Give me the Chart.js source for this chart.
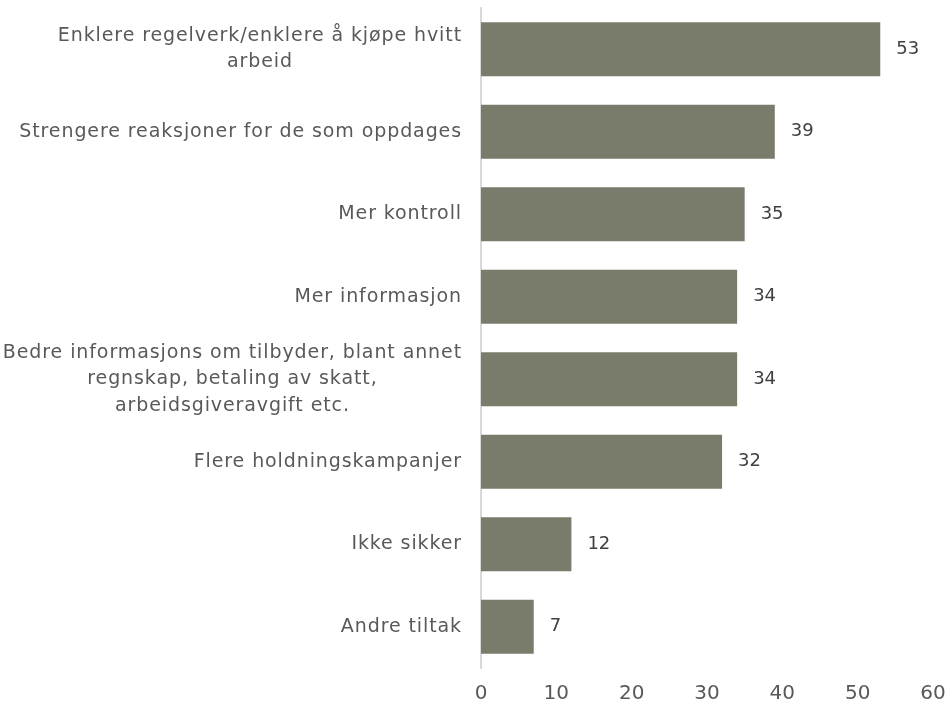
<!DOCTYPE html>
<html>
<head>
<meta charset="utf-8">
<script src="https://cdn.jsdelivr.net/npm/chart.js@4.4.1/dist/chart.umd.min.js"></script>
<style>
  html, body { margin: 0; padding: 0; background: #fff; }
  #wrap { width: 946px; height: 710px; }
</style>
</head>
<body>
<div id="wrap"><canvas id="c" width="946" height="710"></canvas></div>
<script>
/* Horizontal bar chart: tiltak mot svart arbeid (%) */

const CATEGORIES = [
  ['Enklere regelverk/enklere å kjøpe hvitt', 'arbeid'],
  ['Strengere reaksjoner for de som oppdages'],
  ['Mer kontroll'],
  ['Mer informasjon'],
  ['Bedre informasjons om tilbyder, blant annet', 'regnskap, betaling av skatt,', 'arbeidsgiveravgift etc.'],
  ['Flere holdningskampanjer'],
  ['Ikke sikker'],
  ['Andre tiltak'],
];
const VALUES = [53, 39, 35, 34, 34, 32, 12, 7];
const X_TICKS = [0, 10, 20, 30, 40, 50, 60];

const BAR     = '#7a7c6b';
const AXIS    = '#d9d9d9';
const TXT     = '#595959';
const VAL_TXT = '#404040';
const FONT    = '"DejaVu Sans", sans-serif';

/* category labels: right-aligned block, lines centred within it */
const catLabels = {
  id: 'catLabels',
  afterDraw(chart) {
    const ctx = chart.ctx, y = chart.scales.y;
    const right = chart.chartArea.left - 19;
    const lh = 26.5;
    ctx.save();
    ctx.font = '19px ' + FONT;
    ctx.letterSpacing = '0.9px';
    ctx.fillStyle = TXT;
    ctx.textAlign = 'center';
    ctx.textBaseline = 'middle';
    CATEGORIES.forEach((lines, i) => {
      const cy = y.getPixelForTick(i);
      const w = Math.max(...lines.map(l => ctx.measureText(l).width));
      const cx = right - w / 2;
      lines.forEach((l, k) => {
        ctx.fillText(l, cx, cy + (k - (lines.length - 1) / 2) * lh);
      });
    });
    ctx.restore();
  }
};

/* value labels at bar ends */
const valLabels = {
  id: 'valLabels',
  afterDatasetsDraw(chart) {
    const ctx = chart.ctx;
    const meta = chart.getDatasetMeta(0);
    ctx.save();
    ctx.font = '18px ' + FONT;
    ctx.fillStyle = VAL_TXT;
    ctx.textAlign = 'left';
    ctx.textBaseline = 'middle';
    meta.data.forEach((bar, i) => {
      ctx.fillText(String(VALUES[i]), bar.x + 16, bar.y);
    });
    ctx.restore();
  }
};

new Chart(document.getElementById('c'), {
  type: 'bar',
  data: {
    labels: CATEGORIES.map(l => l.join(' ')),
    datasets: [{
      data: VALUES,
      backgroundColor: BAR,
      borderWidth: 0,
      categoryPercentage: 1,
      barPercentage: 0.655,
    }],
  },
  options: {
    indexAxis: 'y',
    responsive: false,
    animation: false,
    devicePixelRatio: 1,
    layout: { padding: { top: 8, right: 0, bottom: 0, left: 0 } },
    plugins: { legend: { display: false }, tooltip: { enabled: false } },
    scales: {
      y: {
        grid: { display: false },
        border: { display: true, color: AXIS, width: 2 },
        ticks: { display: false },
        afterFit(s) { s.width = 481; },
      },
      x: {
        min: 0, max: 60,
        afterBuildTicks(s) { s.ticks = X_TICKS.map(v => ({ value: v })); },
        grid: { display: false, drawTicks: false },
        border: { display: false },
        ticks: { color: TXT, font: { family: FONT, size: 20 }, padding: 14 },
        afterFit(s) { s.height = 42; s.paddingLeft = 0; s.paddingRight = 13; },
      },
    },
  },
  plugins: [catLabels, valLabels],
});
</script>
</body>
</html>
